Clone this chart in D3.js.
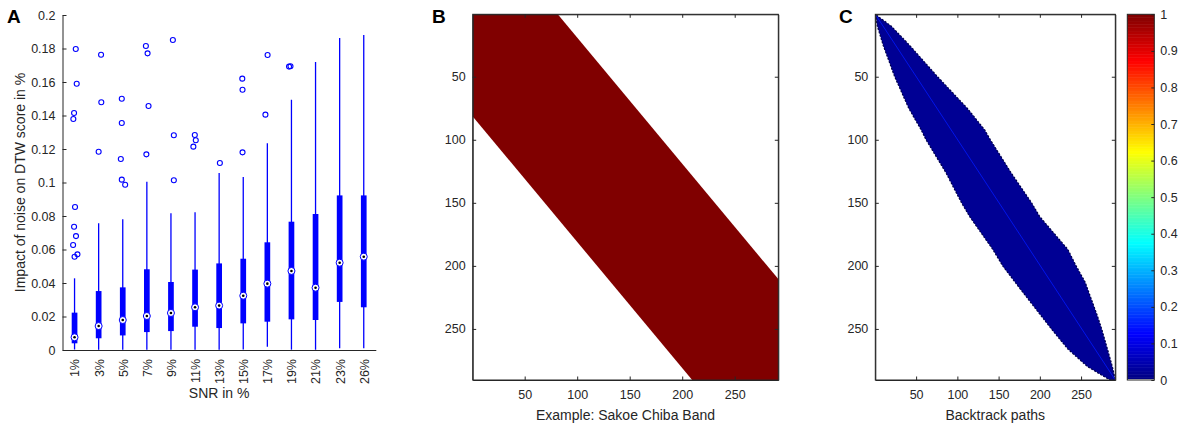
<!DOCTYPE html>
<html>
<head>
<meta charset="utf-8">
<script src="https://cdn.jsdelivr.net/npm/d3@7"></script>
<style>
    body { margin: 0; background: #fff; }
    svg text { font-family: "Liberation Sans", Arial, sans-serif; fill: #262626; }
    .panel-letter { font-size: 19px; font-weight: bold; fill: #000; }
</style>
</head>
<body>
<svg id="chart" width="1182" height="428"></svg>
<script>
// ---- panel A: boxplot data ----
const snrLabels = ["1%", "3%", "5%", "7%", "9%", "11%", "13%", "15%", "17%", "19%", "21%", "23%", "26%"];
const whiskerLow  = [0.0003, 0.0002, 0.0002, 0.0002, 0.0002, 0.0002, 0.0002, 0.0003, 0.0020, 0.0002, 0.0002, 0.0010, 0.0010];
const quartile1   = [0.0040, 0.0070, 0.0087, 0.0107, 0.0113, 0.0139, 0.0131, 0.0159, 0.0169, 0.0183, 0.0179, 0.0287, 0.0255];
const medians     = [0.0076, 0.0143, 0.0179, 0.0203, 0.0221, 0.0255, 0.0265, 0.0324, 0.0396, 0.0472, 0.0372, 0.0521, 0.0557];
const quartile3   = [0.0223, 0.0352, 0.0374, 0.0482, 0.0406, 0.0480, 0.0517, 0.0545, 0.0643, 0.0766, 0.0812, 0.0923, 0.0923];
const whiskerHigh = [0.0428, 0.0756, 0.0780, 0.1005, 0.0816, 0.0822, 0.1057, 0.1033, 0.1234, 0.1494, 0.1720, 0.1863, 0.1880];
// [value, jitter in category units]
const outliers = [
    [[0.1797, 0.05], [0.159, 0.09], [0.1415, -0.02], [0.1379, -0.05], [0.0854, 0.02], [0.0736, -0.02], [0.068, 0.06], [0.0627, -0.06], [0.0571, 0.12], [0.0557, 0]],
    [[0.1763, 0.1], [0.1479, 0.11], [0.1184, 0]],
    [[0.150, -0.04], [0.1355, -0.04], [0.114, -0.08], [0.1017, -0.04], [0.0987, 0.1]],
    [[0.1815, -0.04], [0.1771, 0.03], [0.1457, 0.07], [0.1168, -0.02]],
    [[0.1851, 0.08], [0.1282, 0.12], [0.1013, 0.12]],
    [[0.1284, -0.01], [0.1252, 0.03], [0.1214, -0.07]],
    [[0.1116, 0.03]],
    [[0.162, -0.04], [0.1554, -0.03], [0.118, -0.03]],
    [[0.1761, 0.01], [0.1405, -0.08]],
    [[0.1692, -0.1], [0.1694, -0.04]],
    [], [], []
];
const yTicksA = d3.range(0, 11).map(i => i / 50);

// ---- panel B: Sakoe-Chiba band ----
const gridCols = 291;
const gridRows = 290;
const bandWindow = 81;

// ---- panel C: backtrack path density (row, left col, right col) ----
const pathRows  = [0.5, 10, 25, 50, 75, 92, 100, 126, 150, 161, 187, 200, 213, 240, 250, 266, 280, 290.5];
const pathLeft  = [0.5, 3, 10, 24, 41, 56, 62, 86, 105, 115, 143, 155, 170, 202, 214, 234, 258, 285];
const pathRight = [0.5, 20, 42, 76, 112, 133, 140, 165, 190, 200, 234, 244, 255, 270, 275, 282, 288, 291.5];
const pathValue = 0.02;
const diagValue = 0.15;

const matrixTicks = [50, 100, 150, 200, 250];
const colorbarTicks = d3.range(0, 11).map(i => i / 10);

const svg = d3.select("#chart");
const axisColor = "#262626";
const tickFont = "12.5px";
const labelFont = "14px";

function jet(t)
{
    const c = v => Math.max(0, Math.min(1, v));
    const r = c(1.5 - Math.abs(4 * t - 3));
    const g = c(1.5 - Math.abs(4 * t - 2));
    const b = c(1.5 - Math.abs(4 * t - 1));
    return d3.rgb(r * 255, g * 255, b * 255).formatHex();
}

function styleAxis(g)
{
    g.selectAll(".domain").attr("stroke", axisColor);
    g.selectAll(".tick line").attr("stroke", axisColor);
    g.selectAll(".tick text").attr("fill", axisColor).style("font-size", tickFont);
}

// ================= Panel A =================
function drawBoxplots()
{
    const left = 62.5, right = 375.8, top = 15, bottom = 350;
    const x = d3.scaleLinear().domain([0.5, snrLabels.length + 0.5]).range([left, right]);
    const y = d3.scaleLinear().domain([0, 0.2]).range([bottom, top]);
    const g = svg.append("g");
    const blue = "#0000ff";

    g.append("g")
        .attr("transform", `translate(${left},0)`)
        .call(d3.axisLeft(y).tickValues(yTicksA).tickFormat(d3.format("~g")).tickSizeInner(-4).tickSizeOuter(0).tickPadding(7))
        .call(styleAxis);

    const xAxis = g.append("g")
        .attr("transform", `translate(0,${bottom})`)
        .call(d3.axisBottom(x).tickValues(d3.range(1, snrLabels.length + 1)).tickFormat(i => snrLabels[i - 1]).tickSize(0).tickPadding(0))
        .call(styleAxis);

    xAxis.selectAll(".tick text")
        .attr("transform", "rotate(-90)")
        .attr("text-anchor", "end")
        .attr("x", -9)
        .attr("y", 0)
        .attr("dy", "0.35em");

    g.append("text")
        .attr("transform", `translate(20,${(top + bottom) / 2}) rotate(-90)`)
        .attr("text-anchor", "middle")
        .attr("dy", "0.35em")
        .style("font-size", labelFont)
        .text("Impact of noise on DTW score in %");

    g.append("text")
        .attr("x", (left + right) / 2)
        .attr("y", 398)
        .attr("text-anchor", "middle")
        .style("font-size", labelFont)
        .text("SNR in %");

    const idx = d3.range(snrLabels.length);

    g.selectAll(".whisker")
        .data(idx)
        .join("line")
        .attr("x1", i => x(i + 1))
        .attr("x2", i => x(i + 1))
        .attr("y1", i => y(whiskerLow[i]))
        .attr("y2", i => y(whiskerHigh[i]))
        .attr("stroke", blue)
        .attr("stroke-width", 1.3);

    g.selectAll(".box")
        .data(idx)
        .join("line")
        .attr("x1", i => x(i + 1))
        .attr("x2", i => x(i + 1))
        .attr("y1", i => y(quartile1[i]))
        .attr("y2", i => y(quartile3[i]))
        .attr("stroke", blue)
        .attr("stroke-width", 5.7);

    g.selectAll(".median")
        .data(idx)
        .join("circle")
        .attr("cx", i => x(i + 1))
        .attr("cy", i => y(medians[i]))
        .attr("r", 3.5)
        .attr("fill", "#fff")
        .attr("stroke", blue)
        .attr("stroke-width", 1);

    g.selectAll(".median-dot")
        .data(idx)
        .join("circle")
        .attr("cx", i => x(i + 1))
        .attr("cy", i => y(medians[i]))
        .attr("r", 1.3)
        .attr("fill", "#000");

    const pts = outliers.flatMap((list, i) => list.map(([v, j]) => ({i, v, j})));
    g.selectAll(".outlier")
        .data(pts)
        .join("circle")
        .attr("cx", d => x(d.i + 1 + d.j))
        .attr("cy", d => y(d.v))
        .attr("r", 2.5)
        .attr("fill", "none")
        .attr("stroke", blue)
        .attr("stroke-width", 1.1);

    svg.append("text").attr("class", "panel-letter").attr("x", 7).attr("y", 23).text("A");
}

// ================= matrix axes (B, C) =================
function matrixAxes(left, right, top, bottom)
{
    const x = d3.scaleLinear().domain([0.5, gridCols + 0.5]).range([left, right]);
    const y = d3.scaleLinear().domain([0.5, gridRows + 0.5]).range([top, bottom]);
    const g = svg.append("g");
    const clipId = "clip" + Math.round(left);
    g.append("clipPath").attr("id", clipId)
        .append("rect").attr("x", left).attr("y", top).attr("width", right - left).attr("height", bottom - top);
    const plot = g.append("g").attr("clip-path", `url(#${clipId})`);
    return {x, y, g, plot, left, right, top, bottom};
}

function finishMatrixAxes(m, xLabel)
{
    const {x, y, g, left, right, top, bottom} = m;
    g.append("g").attr("transform", `translate(0,${bottom})`)
        .call(d3.axisBottom(x).tickValues(matrixTicks).tickSizeInner(-3.5).tickSizeOuter(0).tickPadding(10))
        .call(styleAxis);
    g.append("g").attr("transform", `translate(0,${top})`)
        .call(d3.axisTop(x).tickValues(matrixTicks).tickFormat("").tickSizeInner(-3.5).tickSizeOuter(0))
        .call(styleAxis);
    g.append("g").attr("transform", `translate(${left},0)`)
        .call(d3.axisLeft(y).tickValues(matrixTicks).tickSizeInner(-3.5).tickSizeOuter(0).tickPadding(7))
        .call(styleAxis);
    g.append("g").attr("transform", `translate(${right},0)`)
        .call(d3.axisRight(y).tickValues(matrixTicks).tickFormat("").tickSizeInner(-3.5).tickSizeOuter(0))
        .call(styleAxis);
    g.append("rect")
        .attr("x", left).attr("y", top)
        .attr("width", right - left).attr("height", bottom - top)
        .attr("fill", "none").attr("stroke", axisColor).attr("stroke-width", 1);
    g.append("text")
        .attr("x", (left + right) / 2)
        .attr("y", 420)
        .attr("text-anchor", "middle")
        .style("font-size", labelFont)
        .text(xLabel);
}

// ================= Panel B =================
function drawBand()
{
    const m = matrixAxes(472.7, 778.3, 14.3, 380);
    const xMax = gridCols + 0.5, yMax = gridRows + 0.5, w = bandWindow;
    const poly = [
        [0.5, 0.5], [w + 0.5, 0.5], [xMax, xMax - w],
        [xMax, yMax], [yMax - w, yMax], [0.5, w + 0.5]
    ];
    m.plot.append("path")
        .attr("d", d3.line().x(d => m.x(d[0])).y(d => m.y(d[1]))(poly) + "Z")
        .attr("fill", jet(1));
    finishMatrixAxes(m, "Example: Sakoe Chiba Band");
    svg.append("text").attr("class", "panel-letter").attr("x", 432).attr("y", 23).text("B");
}

// ================= Panel C =================
function drawPaths()
{
    const m = matrixAxes(875.3, 1115.3, 14.3, 380);
    const leftEdge = pathRows.map((r, i) => [pathLeft[i], r]);
    const rightEdge = pathRows.map((r, i) => [pathRight[i], r]).reverse();
    const line = d3.line().x(d => m.x(d[0])).y(d => m.y(d[1]));

    m.plot.append("path")
        .attr("d", line(leftEdge.concat(rightEdge)) + "Z")
        .attr("fill", jet(pathValue))
        .attr("stroke", "#00004a")
        .attr("stroke-width", 1.2)
        .attr("stroke-dasharray", "2,1.5");

    m.plot.append("path")
        .attr("d", line([[0.5, 0.5], [gridCols + 0.5, gridRows + 0.5]]))
        .attr("stroke", jet(diagValue))
        .attr("stroke-width", 1)
        .attr("opacity", 0.8);

    finishMatrixAxes(m, "Backtrack paths");
    svg.append("text").attr("class", "panel-letter").attr("x", 839).attr("y", 23).text("C");

    // colorbar: jet with first entry white
    const cbLeft = 1127.3, cbRight = 1154.3, cbTop = 14.3, cbBottom = 380;
    const c = d3.scaleLinear().domain([0, 1]).range([cbBottom, cbTop]);
    const n = 256;
    const steps = d3.range(n);
    svg.append("g").selectAll("rect")
        .data(steps)
        .join("rect")
        .attr("x", cbLeft)
        .attr("width", cbRight - cbLeft)
        .attr("y", k => c((k + 1) / n))
        .attr("height", k => c(k / n) - c((k + 1) / n) + 0.5)
        .attr("fill", k => k === 0 ? "#ffffff" : jet(k / (n - 1)));

    svg.append("g").attr("transform", `translate(${cbRight},0)`)
        .call(d3.axisRight(c).tickValues(colorbarTicks).tickFormat(d3.format("~g")).tickSizeInner(-3).tickSizeOuter(0).tickPadding(6))
        .call(styleAxis)
        .call(g => g.select(".domain").remove());

    svg.append("rect")
        .attr("x", cbLeft).attr("y", cbTop)
        .attr("width", cbRight - cbLeft).attr("height", cbBottom - cbTop)
        .attr("fill", "none").attr("stroke", axisColor).attr("stroke-width", 1);
}

drawBoxplots();
drawBand();
drawPaths();
</script>
</body>
</html>
